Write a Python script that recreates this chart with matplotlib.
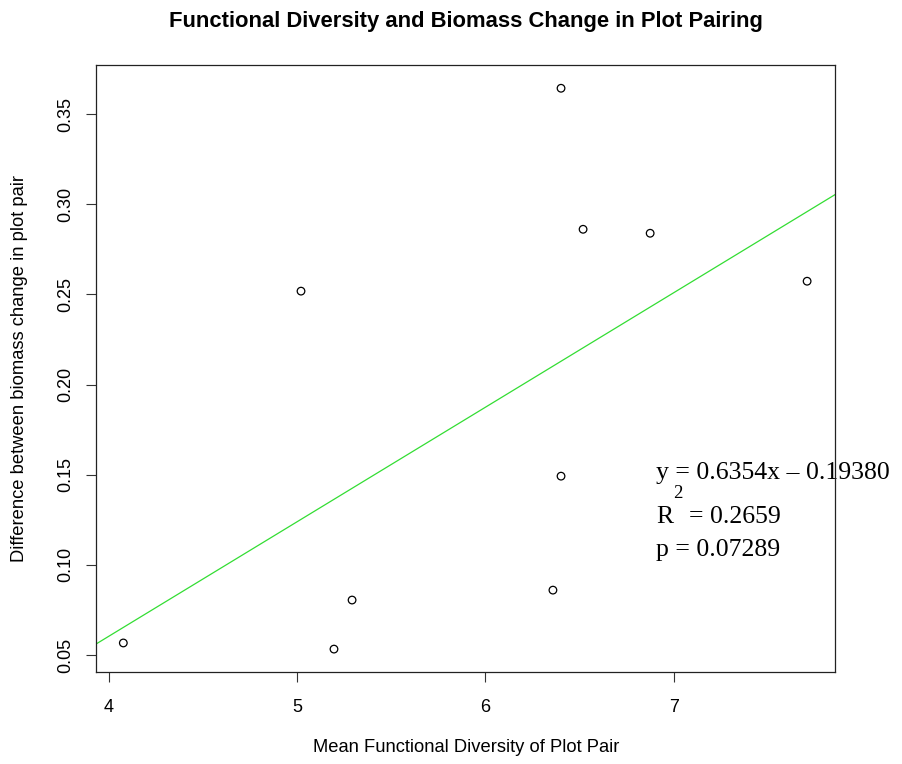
import matplotlib
matplotlib.use('Agg')
from matplotlib import pyplot as plt

# points
fd_mean = [4.078, 5.021, 5.196, 5.292, 6.358, 6.401, 6.401, 6.518, 6.874, 7.707]
bm_diff = [0.0567, 0.2518, 0.0533, 0.0805, 0.0860, 0.1492, 0.3643, 0.2861, 0.2839, 0.2573]

# fitted line drawn in the chart (abline)
slope = 0.06354
intercept = -0.1938

x_ticks = [4, 5, 6, 7]
y_ticks = [0.05, 0.10, 0.15, 0.20, 0.25, 0.30, 0.35]

eq_text = 'y = 0.6354x \u2013 0.19380'
r2_text = '= 0.2659'
p_text = 'p = 0.07289'

plt.rcParams['font.family'] = ['Liberation Sans', 'DejaVu Sans']

fig = plt.figure(figsize=(9.02, 7.64), dpi=100)
ax = fig.add_axes([96 / 902, 1 - 672 / 764, 739 / 902, 607 / 764])

ax.scatter(fd_mean, bm_diff, s=30, facecolors='none', edgecolors='black', linewidths=0.9, zorder=3)
ax.axline((0, intercept), slope=slope, color='#33dd33', linewidth=0.9, zorder=2)

ax.set_xlim(3.933, 7.855)
ax.set_ylim(0.0406, 0.3772)
ax.set_xticks(x_ticks)
ax.set_xticklabels([str(t) for t in x_ticks])
ax.set_yticks(y_ticks)
ax.set_yticklabels(['%.2f' % t for t in y_ticks], rotation=90, va='center')

ax.tick_params(direction='out', length=7.5, width=0.8, color='#333333', labelsize=13, pad=12)
ax.tick_params(axis='y', pad=8)
for s in ax.spines.values():
    s.set_color('#222222')
    s.set_linewidth(0.9)

fig.text(466 / 902, 1 - 22 / 764, 'Functional Diversity and Biomass Change in Plot Pairing',
         ha='center', va='center', fontsize=15.8, fontweight='bold')
fig.text(466 / 902, 1 - 748 / 764, 'Mean Functional Diversity of Plot Pair',
         ha='center', va='center', fontsize=13.2)
fig.text(20 / 902, 1 - 369 / 764, 'Difference between biomass change in plot pair',
         ha='center', va='center', rotation=90, fontsize=13.2)

serif = ['Liberation Serif', 'DejaVu Serif']
ax.text(656 / 902, 1 - 479 / 764, eq_text, transform=fig.transFigure, family=serif,
        fontsize=18.5, ha='left', va='baseline', zorder=2, clip_on=False)
ax.text(656 / 902, 1 - 523 / 764, 'R', transform=fig.transFigure, family=serif,
        fontsize=18.5, ha='left', va='baseline', zorder=2, clip_on=False)
ax.text(673 / 902, 1 - 498 / 764, '2', transform=fig.transFigure, family=serif,
        fontsize=13.5, ha='left', va='baseline', zorder=2, clip_on=False)
ax.text(689 / 902, 1 - 523 / 764, r2_text, transform=fig.transFigure, family=serif,
        fontsize=18.5, ha='left', va='baseline', zorder=2, clip_on=False)
ax.text(656 / 902, 1 - 556 / 764, p_text, transform=fig.transFigure, family=serif,
        fontsize=18.5, ha='left', va='baseline', zorder=2, clip_on=False)

fig.savefig('out.png', dpi=100)
